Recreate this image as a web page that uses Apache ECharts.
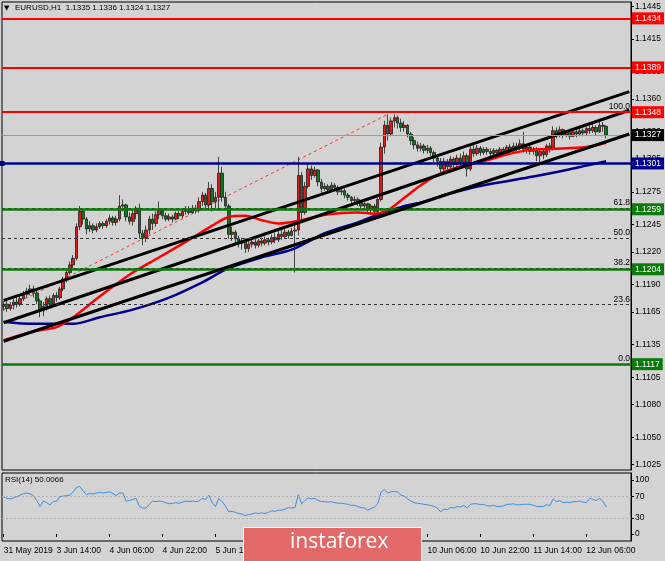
<!DOCTYPE html>
<html><head><meta charset="utf-8">
<script src="https://cdn.jsdelivr.net/npm/echarts@6/dist/echarts.min.js"></script>
<style>html,body{margin:0;padding:0;background:#d3d3d3}#c{width:665px;height:561px}</style>
</head><body><div id="c"></div>
<script>
// ---- data ----
const sessions = [['31 May',22,23],['3 Jun',0,23],['4 Jun',0,23],['5 Jun',0,23],['6 Jun',0,23],['7 Jun',0,23],['10 Jun',0,23],['11 Jun',0,23],['12 Jun',0,12]];
const emptySlots = 7;
const xTickCats = ['31 May 22:00','3 Jun 14:00','4 Jun 06:00','4 Jun 22:00','5 Jun 14:00','6 Jun 06:00','6 Jun 22:00','7 Jun 14:00','10 Jun 06:00','10 Jun 22:00','11 Jun 14:00','12 Jun 06:00'];
const xTickLabels = ['31 May 2019','3 Jun 14:00','4 Jun 06:00','4 Jun 22:00','5 Jun 14:00','6 Jun 06:00','6 Jun 22:00','7 Jun 14:00','10 Jun 06:00','10 Jun 22:00','11 Jun 14:00','12 Jun 06:00'];
const priceTicks = [1.1445,1.1415,1.1385,1.1360,1.1330,1.1305,1.1275,1.1245,1.1220,1.1190,1.1165,1.1135,1.1105,1.1080,1.1050,1.1025];
const rsiTicks = [0,30,70,100];

const firstOpen = 1.1170;
const closes = [
1.1172,1.1168,1.1171,1.1174,1.1172,1.1177,1.1181,1.1184,1.1186,1.1182,
1.1175,1.1166,1.1170,1.1177,1.1172,1.1180,1.1178,1.1186,1.1195,1.1201,
1.1208,1.1214,1.1243,1.1257,1.1250,1.1241,1.1244,1.1240,1.1243,1.1246,
1.1244,1.1248,1.1251,1.1247,1.1250,1.1262,1.1263,1.1252,1.1248,1.1255,
1.1260,1.1237,1.1233,1.1240,1.1250,1.1246,1.1254,1.1258,1.1253,1.1250,
1.1252,1.1250,1.1255,1.1253,1.1257,1.1259,1.1256,1.1260,1.1258,1.1266,
1.1272,1.1263,1.1278,1.1266,1.1270,1.1292,1.1270,1.1262,1.1236,1.1238,
1.1232,1.1228,1.1230,1.1223,1.1227,1.1229,1.1226,1.1230,1.1228,1.1231,
1.1229,1.1233,1.1231,1.1236,1.1234,1.1238,1.1235,1.1239,1.1240,1.1290,
1.1256,1.1280,1.1296,1.1290,1.1295,1.1284,1.1278,1.1280,1.1277,1.1281,
1.1279,1.1275,1.1276,1.1272,1.1270,1.1267,1.1268,1.1265,1.1262,1.1264,
1.1259,1.1262,1.1257,1.1268,1.1316,1.1336,1.1328,1.1340,1.1343,1.1338,
1.1334,1.1336,1.1328,1.1322,1.1318,1.1315,1.1317,1.1313,1.1315,1.1311,
1.1306,1.1303,1.1296,1.1303,1.1298,1.1305,1.1300,1.1306,1.1302,1.1308,
1.1296,1.1314,1.1310,1.1315,1.1311,1.1314,1.1312,1.1310,1.1313,1.1311,
1.1314,1.1312,1.1316,1.1313,1.1317,1.1315,1.1319,1.1314,1.1316,1.1312,
1.1314,1.1308,1.1312,1.1309,1.1317,1.1315,1.1331,1.1327,1.1332,1.1327,
1.1329,1.1326,1.1330,1.1328,1.1331,1.1329,1.1333,1.1331,1.1334,1.1330,
1.1336,1.1335,1.1327];
const lows = [
1.1166,1.1165,1.1166,1.1167,1.1169,1.1170,1.1175,1.1178,1.1180,1.1178,
1.1172,1.1160,1.1161,1.1166,1.1169,1.1170,1.1174,1.1176,1.1184,1.1192,
1.1199,1.1205,1.1212,1.1240,1.1245,1.1236,1.1238,1.1237,1.1238,1.1241,
1.1241,1.1242,1.1245,1.1244,1.1244,1.1248,1.1257,1.1248,1.1245,1.1244,
1.1250,1.1232,1.1226,1.1229,1.1236,1.1240,1.1243,1.1250,1.1250,1.1248,
1.1248,1.1247,1.1249,1.1250,1.1251,1.1254,1.1254,1.1255,1.1255,1.1256,
1.1262,1.1258,1.1258,1.1257,1.1260,1.1258,1.1266,1.1258,1.1232,1.1230,
1.1228,1.1224,1.1222,1.1219,1.1220,1.1224,1.1223,1.1224,1.1225,1.1226,
1.1226,1.1227,1.1228,1.1229,1.1231,1.1232,1.1232,1.1234,1.1201,1.1235,
1.1250,1.1254,1.1278,1.1286,1.1288,1.1280,1.1274,1.1276,1.1274,1.1276,
1.1276,1.1272,1.1272,1.1269,1.1267,1.1264,1.1264,1.1262,1.1258,1.1258,
1.1255,1.1254,1.1253,1.1254,1.1266,1.1310,1.1322,1.1326,1.1334,1.1333,
1.1330,1.1330,1.1325,1.1318,1.1314,1.1312,1.1312,1.1310,1.1310,1.1308,
1.1302,1.1298,1.1292,1.1294,1.1293,1.1296,1.1296,1.1298,1.1297,1.1300,
1.1289,1.1294,1.1307,1.1308,1.1308,1.1309,1.1309,1.1307,1.1308,1.1308,
1.1309,1.1310,1.1310,1.1311,1.1311,1.1312,1.1313,1.1311,1.1310,1.1309,
1.1309,1.1303,1.1301,1.1305,1.1307,1.1311,1.1313,1.1324,1.1325,1.1324,
1.1325,1.1323,1.1325,1.1325,1.1326,1.1326,1.1327,1.1328,1.1329,1.1327,
1.1329,1.1330,1.1324];
const highs = [
1.1175,1.1175,1.1174,1.1177,1.1178,1.1180,1.1184,1.1187,1.1190,1.1189,
1.1184,1.1177,1.1174,1.1179,1.1180,1.1182,1.1183,1.1188,1.1197,1.1205,
1.1211,1.1217,1.1246,1.1262,1.1260,1.1252,1.1248,1.1246,1.1246,1.1248,
1.1248,1.1250,1.1254,1.1253,1.1253,1.1272,1.1268,1.1264,1.1256,1.1258,
1.1262,1.1264,1.1240,1.1244,1.1253,1.1255,1.1257,1.1266,1.1260,1.1256,
1.1255,1.1254,1.1257,1.1258,1.1259,1.1262,1.1262,1.1263,1.1263,1.1270,
1.1275,1.1274,1.1284,1.1282,1.1275,1.1307,1.1298,1.1275,1.1264,1.1243,
1.1240,1.1235,1.1233,1.1232,1.1230,1.1232,1.1233,1.1232,1.1233,1.1234,
1.1233,1.1236,1.1237,1.1239,1.1240,1.1241,1.1240,1.1242,1.1247,1.1307,
1.1293,1.1284,1.1301,1.1299,1.1298,1.1296,1.1287,1.1283,1.1282,1.1284,
1.1283,1.1281,1.1279,1.1278,1.1274,1.1271,1.1271,1.1270,1.1266,1.1266,
1.1265,1.1264,1.1264,1.1270,1.1320,1.1340,1.1346,1.1343,1.1346,1.1345,
1.1342,1.1340,1.1337,1.1330,1.1325,1.1321,1.1320,1.1319,1.1318,1.1317,
1.1313,1.1309,1.1306,1.1306,1.1305,1.1308,1.1307,1.1309,1.1310,1.1312,
1.1310,1.1318,1.1320,1.1318,1.1317,1.1316,1.1316,1.1315,1.1315,1.1314,
1.1316,1.1316,1.1318,1.1319,1.1320,1.1320,1.1323,1.1330,1.1318,1.1318,
1.1316,1.1316,1.1314,1.1315,1.1319,1.1320,1.1335,1.1334,1.1335,1.1333,
1.1331,1.1330,1.1332,1.1332,1.1334,1.1333,1.1335,1.1336,1.1337,1.1336,
1.1340,1.1339,1.1336];
const rsi = [
69,66,65,67,69,72,75,76,74,71,
62,51,61,58,54,60,61,69,70,71,
72,78,86,88,80,73,75,74,76,77,
76,77,78,75,71,76,76,61,62,64,
66,51,48,48,55,61,60,61,60,58,
56,57,58,57,59,61,60,61,60,61,
66,64,72,58,51,66,60,52,41,42,
40,38,37,34,36,37,39,38,39,38,
40,43,42,44,44,46,49,48,49,73,
56,62,67,65,66,62,60,60,59,60,
58,57,57,56,55,53,53,51,49,48,
44,47,50,56,78,82,76,78,79,78,
72,70,65,61,58,57,56,55,54,53,
51,48,41,46,45,49,48,51,50,53,
48,55,56,56,54,55,52,52,53,51,
51,52,55,55,56,54,54,55,55,55,
53,51,51,51,54,53,65,60,62,58,
59,58,60,60,61,59,58,66,64,62,
66,61,50];
// moving averages, read at points along the curves: [bar index, price]
const maRed = [[0,1.1139],[9,1.1147],[16,1.1151],[21,1.1160],[29,1.1179],[39,1.1201],[47,1.1215],[56,1.1231],[63,1.1244],[68,1.1252],[73,1.1253],[78,1.1249],[83,1.1246],[90,1.1249],[97,1.1254],[107,1.1256],[112,1.1255],[116,1.1258],[120,1.1267],[126,1.1281],[132,1.1292],[140,1.1300],[146,1.1304],[153,1.1310],[158,1.1313],[162,1.1314],[170,1.1315],[176,1.1316],[182,1.1320]];
const maBlue = [[0,1.1156],[9,1.1154],[21,1.1154],[29,1.1160],[39,1.1167],[50,1.1178],[60,1.1192],[68,1.1205],[78,1.1215],[87,1.1222],[97,1.1237],[107,1.1247],[113,1.1254],[120,1.1261],[127,1.1266],[133,1.1272],[145,1.1281],[160,1.1289],[170,1.1295],[176,1.1299],[182,1.1303]];
// trend channel lines: [start bar, price], [end bar, price]
const channelTop = [[0,1.11755],[189,1.13668]];
const channelMid = [[0,1.1155],[189,1.13498]];
const channelLow = [[0,1.1138],[189,1.1328]];
const fibDiagonal = [[0,1.1167],[116,1.1346]];
// horizontal levels
const redLevels = [1.1434,1.1389,1.1348];
const navyLevels = [1.1301];
const greenLevels = [1.1259,1.1204,1.1117];
const bidPrice = 1.1327;
const fibLevels = [[1.1348,'100.0'],[1.12598,'61.8'],[1.12325,'50.0'],[1.12052,'38.2'],[1.11715,'23.6'],[1.1117,'0.0']];
const header = 'EURUSD,H1  1.1335 1.1336 1.1324 1.1327';
const rsiHeader = 'RSI(14) 50.0066';

// ---- build ----
const pad = n => (n < 10 ? '0' : '') + n;
const categories = [];
sessions.forEach(s => { for (let h = s[1]; h <= s[2]; h++) categories.push(s[0] + ' ' + pad(h) + ':00'); });
for (let k = 0; k < emptySlots; k++) categories.push('slot' + k);
const candleData = closes.map((c, i) => [i === 0 ? firstOpen : closes[i - 1], c, lows[i], highs[i]]);
const tickMap = {}; xTickCats.forEach((c, i) => tickMap[c] = xTickLabels[i]);

const FONT = 'Liberation Sans';
const RED = '#ff0000', GREEN = '#0a7a0a', NAVY = '#00008c';
const tag = (txt, bg) => ({ show: true, position: 'end', formatter: txt, color: '#fff', backgroundColor: bg, padding: [2, 3, 1, 3], fontSize: 8.5, fontFamily: FONT, distance: 1 });

const fibLines = fibLevels.map(f => ({
  yAxis: f[0],
  lineStyle: { color: '#333', width: 1, type: [3, 3] },
  label: { show: true, position: 'insideEndTop', formatter: f[1], color: '#000', fontSize: 8.5, fontFamily: FONT, distance: 1 }
}));
fibLines.push({ yAxis: bidPrice, lineStyle: { color: '#8d9cb0', width: 1, type: 'solid' }, label: tag(bidPrice.toFixed(4), '#000') });

const hLines = [];
redLevels.forEach(v => hLines.push({ yAxis: v, lineStyle: { color: RED, width: 2, type: 'solid' }, label: tag(v.toFixed(4), RED) }));
navyLevels.forEach(v => hLines.push({ yAxis: v, symbol: ['rect', 'none'], symbolSize: 5, itemStyle: { color: NAVY }, lineStyle: { color: NAVY, width: 2.5, type: 'solid' }, label: tag(v.toFixed(4), NAVY) }));
greenLevels.forEach(v => hLines.push({ yAxis: v, lineStyle: { color: GREEN, width: 2.5, type: 'solid' }, label: tag(v.toFixed(4), GREEN) }));

const chart = echarts.init(document.getElementById('c'), null, { renderer: 'canvas' });
chart.setOption({
  animation: false,
  backgroundColor: '#d3d3d3',
  textStyle: { fontFamily: FONT },
  grid: [
    { left: 2, right: 34, top: 2, height: 468, show: true, borderColor: '#000', borderWidth: 1, backgroundColor: 'transparent' },
    { left: 2, right: 34, top: 473, height: 68, show: true, borderColor: '#000', borderWidth: 1, backgroundColor: 'transparent' }
  ],
  xAxis: [
    { type: 'category', gridIndex: 0, data: categories, boundaryGap: true, axisLine: { show: false }, axisTick: { show: false }, axisLabel: { show: false }, splitLine: { show: false } },
    { type: 'category', gridIndex: 1, data: categories, boundaryGap: true, axisLine: { show: false },
      axisTick: { show: true, alignWithLabel: true, length: 3, lineStyle: { color: '#000' }, interval: (i, v) => v in tickMap },
      axisLabel: { show: true, interval: (i, v) => v in tickMap, formatter: v => tickMap[v] || '', align: 'left', margin: 5, fontSize: 8.5, color: '#000', fontFamily: FONT },
      splitLine: { show: false } }
  ],
  yAxis: [
    { type: 'value', gridIndex: 0, position: 'right', min: 1.1020, max: 1.1449, scale: true,
      axisLine: { show: true, lineStyle: { color: '#000' } },
      axisTick: { show: true, length: 3, lineStyle: { color: '#000' }, customValues: priceTicks },
      axisLabel: { show: true, customValues: priceTicks, formatter: v => v.toFixed(4), fontSize: 8.5, color: '#000', margin: 4, fontFamily: FONT },
      splitLine: { show: false } },
    { type: 'value', gridIndex: 1, position: 'right', min: -13, max: 113,
      axisLine: { show: true, lineStyle: { color: '#000' } },
      axisTick: { show: true, length: 3, lineStyle: { color: '#000' }, customValues: rsiTicks },
      axisLabel: { show: true, customValues: rsiTicks, fontSize: 8.5, color: '#000', margin: 4, fontFamily: FONT },
      splitLine: { show: false } }
  ],
  series: [
    { name: 'fib', type: 'line', xAxisIndex: 0, yAxisIndex: 0, z: 1, data: fibDiagonal, symbol: 'none', silent: true,
      lineStyle: { color: '#ff3030', width: 1, type: [3, 3] },
      markLine: { silent: true, precision: 6, symbol: ['none', 'none'], data: fibLines } },
    { name: 'EURUSD', type: 'candlestick', xAxisIndex: 0, yAxisIndex: 0, z: 2, data: candleData, barWidth: 3,
      itemStyle: { color: '#e01818', color0: '#0b7a1c', borderColor: '#1e1e1e', borderColor0: '#1e1e1e', borderWidth: 0.8 } },
    { name: 'MA slow', type: 'line', xAxisIndex: 0, yAxisIndex: 0, z: 3, data: maBlue, symbol: 'none', smooth: 0.3, lineStyle: { color: NAVY, width: 2.5 } },
    { name: 'MA fast', type: 'line', xAxisIndex: 0, yAxisIndex: 0, z: 3, data: maRed, symbol: 'none', smooth: 0.3, lineStyle: { color: RED, width: 2.5 } },
    { name: 'ch1', type: 'line', xAxisIndex: 0, yAxisIndex: 0, z: 4, data: channelTop, symbol: 'none', lineStyle: { color: '#000', width: 3 } },
    { name: 'ch2', type: 'line', xAxisIndex: 0, yAxisIndex: 0, z: 4, data: channelMid, symbol: 'none', lineStyle: { color: '#000', width: 3 } },
    { name: 'ch3', type: 'line', xAxisIndex: 0, yAxisIndex: 0, z: 5, data: channelLow, symbol: 'none', lineStyle: { color: '#000', width: 3 },
      markLine: { silent: true, precision: 6, symbol: ['none', 'none'], data: hLines } },
    { name: 'RSI', type: 'line', xAxisIndex: 1, yAxisIndex: 1, data: rsi, symbol: 'none', lineStyle: { color: '#3d8ee6', width: 1 },
      markLine: { silent: true, symbol: ['none', 'none'], label: { show: false },
        data: [{ yAxis: 70 }, { yAxis: 30 }], lineStyle: { color: '#b0b0b0', width: 1, type: [2, 2] } } }
  ],
  graphic: [
    { type: 'text', left: 4, top: 5, z: 100, style: { text: '▼', fontSize: 7, fill: '#000', fontFamily: 'DejaVu Sans' } },
    { type: 'text', left: 15, top: 4, z: 100, style: { text: header, fontSize: 8, fill: '#000', fontFamily: FONT } },
    { type: 'text', left: 5, top: 476, z: 100, style: { text: rsiHeader, fontSize: 8, fill: '#000', fontFamily: FONT } },
    { type: 'rect', left: 243, top: 527, z: 100, shape: { width: 178, height: 40 }, style: { fill: '#e36868', stroke: '#f4f4f4', lineWidth: 1 } },
    { type: 'text', left: 290, top: 532, z: 101, style: { text: 'instaforex', fontSize: 21, fill: '#fff', fontFamily: 'Open Sans' } }
  ]
});
</script></body></html>
